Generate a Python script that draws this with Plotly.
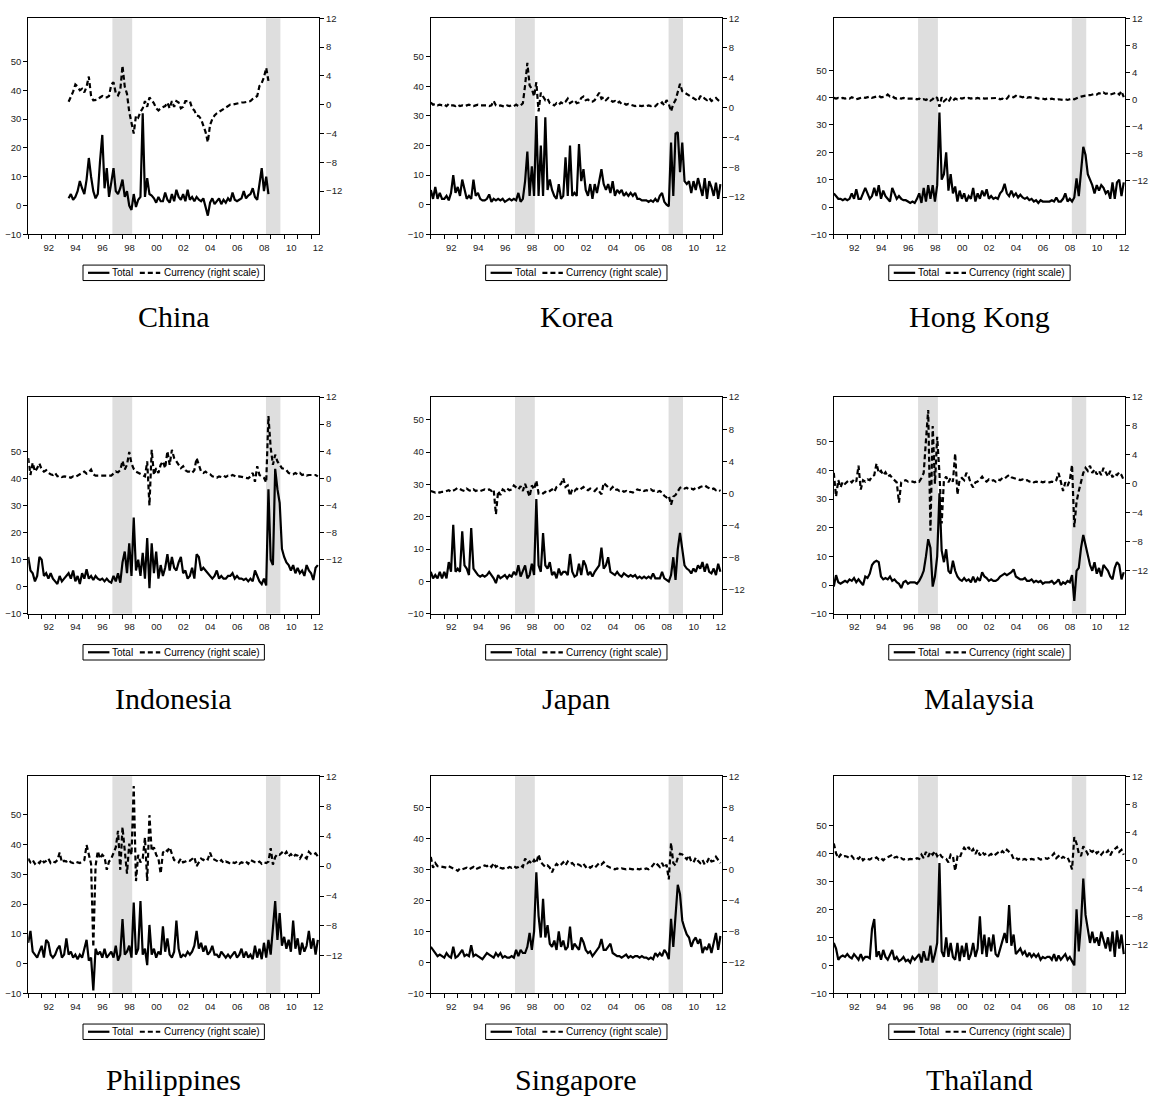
import plotly.graph_objects as go

# ---------------- data (bimonthly readings) ----------------
china_start = 1994.0
china_total = [
    2.5, 4, 2, 3, 5, 8.5,
    6, 4, 9, 16.5, 10, 5,
    2.5, 4, 15.5, 24.5, 6, 13,
    3, 8, 13, 5, 4, 6,
    9, 3, 5, 0, -1.5, 4,
    -0.5, 2, 3, 32, 3, 9.5,
    4, 3.5, 2.5, 1, 3, 1.5,
    1.5, 4.5, 2, 1, 4, 1.5,
    5.5, 3, 2, 4, 1.5, 5.5,
    2, 3, 1.5, 3, 2, 1.5,
    2.5, -0.5, -3.5, 1, 2.5, 0.5,
    1.5, 2.5, 0.5, 2, 1, 2.5,
    1.5, 4.5, 2, 1.5, 2, 2.5,
    5, 2.5, 3.5, 4, 6, 3,
    2, 7.5, 13, 5, 10, 4]
china_currency = [
    0.4, 1.0, 1.8, 2.8, 2.5, 2.0,
    2.2, 1.7, 2.5, 3.9, 1.2, 0.6,
    0.6, 0.7, 1.0, 1.2, 1.0, 1.0,
    1.2, 2.8, 3.1, 1.6, 1.3, 2.0,
    5.4, 2.5, 1.5, -1.0, -2.5, -4.0,
    -1.5, -1.8, -1.0, -0.5, 0.5, -0.3,
    1.0, 0.6, 0.2, -0.5, -0.8, -0.5,
    -0.3, -0.2, 0.3, -0.5, 0.5, -0.3,
    0.5, 0.3, -0.5, -0.3, 0.5, 0.5,
    0.5, -0.5, -0.8, -1.5, -1.6, -2.0,
    -3.0, -3.8, -5.2, -2.8, -2.0, -1.5,
    -1.2, -1.0, -0.8, -0.6, -0.4, -0.2,
    0.0, 0.0, 0.1, 0.2, 0.2, 0.3,
    0.3, 0.4, 0.4, 0.5, 0.8, 1.0,
    1.2, 2.6, 3.0, 3.8, 5.1, 3.3]

korea_start = 1991.0
korea_total = [
    5, 2, 6, 2, 4, 2,
    2, 3, 1.5, 4, 10, 4,
    6, 3, 8.5, 5, 2, 3,
    2, 8.5, 3, 4, 2, 1.5,
    1.5, 2, 3.5, 1, 2, 1.5,
    2, 1.5, 2, 1, 1.5, 2,
    1.5, 2, 1.5, 4, 1, 2,
    8, 18, 3, 13, 3, 30,
    3, 20, 3, 29.5, 5, 8.5,
    5, 3, 2, 7, 2, 3,
    16, 3, 20, 3, 4, 3,
    20.5, 8, 12, 5, 3, 7,
    2, 7, 4, 8, 12, 7,
    5, 7, 4, 8, 3, 5,
    4, 5, 3, 4, 3, 4,
    3, 4, 2, 2, 1.5, 1.5,
    1.5, 1, 1.5, 1, 2, 1,
    3, 4, 1, 0, -0.5, 21,
    3, 24, 24.5, 11, 21, 8,
    7, 8, 4, 8, 5, 9,
    6, 3, 9, 2, 8, 6,
    3, 7.5, 2, 7]
korea_currency = [
    0.7, 0.4, 0.5, 0.3, 0.4, 0.3,
    0.4, 0.2, 0.5, 0.3, 0.3, 0.2,
    0.4, 0.2, 0.3, 0.2, 0.3, 0.4,
    0.3, 0.2, 0.3, 0.4, 0.3, 0.3,
    0.4, 0.3, 0.2, 0.3, 0.9, 0.3,
    0.2, 0.3, 0.2, 0.1, 0.3, 0.2,
    0.3, 0.2, 0.4, 0.2, 0.3, 0.6,
    3.0, 6.0, 3.0, 2.5, 1.5, 3.4,
    -0.5, 2.0, 1.5, 1.0, 1.2, 0.6,
    0.5, 0.3, 0.6, 0.4, 0.7, 0.5,
    0.8, 1.2, 0.6, 0.8, 1.0, 0.6,
    0.7, 1.3, 1.5, 1.0, 1.1, 0.8,
    0.8, 1.0, 1.5, 2.0, 1.2, 1.4,
    1.0, 1.3, 1.0, 0.8, 0.9, 0.6,
    0.8, 0.5, 0.6, 0.4, 0.5, 0.4,
    0.3, 0.2, 0.3, 0.2, 0.2, 0.3,
    0.2, 0.3, 0.2, 0.3, 0.2, 0.5,
    0.4, 0.7, 0.3, 1.0, 0.5, -0.5,
    0.5, 1.0, 2.0, 3.2, 2.2, 2.0,
    1.8, 1.6, 1.4, 1.2, 1.0, 0.9,
    1.5, 1.6, 1.2, 1.0, 1.3, 0.9,
    1.1, 1.3, 1.0, 0.8]

hongkong_start = 1991.0
hongkong_total = [
    5, 4, 3, 3, 2.5, 3,
    2.5, 3, 5, 3, 6.5, 3,
    3, 5, 7, 5, 3, 4,
    7, 4, 8, 3, 6, 4,
    3, 2, 7, 5, 3, 4,
    3, 2.5, 2.5, 2, 1.5, 2,
    1.5, 3, 5, 1.5, 7, 2,
    8, 3, 8, 2, 8, 34.5,
    10, 12, 20, 6, 12, 5,
    7.5, 2, 6, 3, 5, 2,
    4, 3, 7, 2, 5, 3,
    6, 4, 6.5, 3, 4, 3,
    3.5, 3, 5, 6, 8.5, 5,
    4, 6, 4, 5, 3.5, 4.5,
    3.5, 3, 3.5, 2.5, 3, 2,
    2.5, 1.5, 2.5, 2, 2, 2,
    2, 2.5, 2, 3.5, 2, 2,
    3, 5, 2, 3, 2, 3.5,
    10.5, 4, 12, 22, 19, 12,
    10, 8, 5, 8, 6, 8,
    7, 5, 6, 3, 9, 3,
    9, 10, 4, 9]
hongkong_currency = [
    0.2, 0.1, 0.2, 0.1, 0.2, 0.1,
    0.2, 0.1, 0.3, 0.2, 0.0, 0.1,
    0.2, 0.3, 0.2, 0.3, 0.4, 0.2,
    0.3, 0.4, 0.5, 0.3, 0.4, 0.4,
    0.7, 0.4, 0.5, 0.2, 0.1, 0.2,
    0.1, 0.2, 0.1, 0.1, 0.2, 0.1,
    0.1, 0.0, 0.1, -0.1, 0.0, -0.1,
    0.1, -0.2, 0.0, 0.4, 0.2, -1.1,
    0.3, -0.3, 0.0, -0.4, 0.2, -0.2,
    0.1, 0.0, 0.2, 0.1, 0.2, 0.1,
    0.2, 0.1, 0.2, 0.1, 0.2, 0.1,
    0.2, 0.1, 0.1, 0.2, 0.1, 0.2,
    0.1, 0.2, 0.0, 0.1, -0.1, 0.1,
    0.5, 0.4, 0.3, 0.5, 0.3, 0.4,
    0.3, 0.4, 0.2, 0.3, 0.2, 0.2,
    0.2, 0.1, 0.2, 0.1, 0.0, 0.1,
    0.0, 0.1, 0.0, -0.1, 0.0, -0.1,
    -0.1, 0.0, -0.1, 0.0, 0.1, 0.0,
    0.2, 0.3, 0.4, 0.5, 0.5, 0.6,
    0.6, 0.7, 0.8, 0.7, 0.9, 0.8,
    1.0, 0.8, 0.9, 0.7, 0.8, 0.8,
    1.0, 0.7, 1.2, 0.3]

indonesia_start = 1991.0
indonesia_total = [
    11, 6, 5, 2, 4, 11,
    10, 4, 5, 3, 5, 3,
    2, 1, 4, 2, 3, 4,
    5, 3, 6, 2, 4, 1,
    5, 3, 6.5, 3, 4, 2.5,
    4, 3, 2.5, 3, 2, 3,
    2, 1.5, 4, 2, 5, 1.5,
    9, 13, 5, 16, 4, 25.5,
    6, 10, 4, 12.5, 3, 18,
    -0.5, 16, 5, 13, 3, 8,
    4, 7, 12, 6, 11, 7,
    6, 9, 11, 5, 6, 3,
    4, 7, 3, 12, 11, 6,
    7, 6, 5, 4, 3, 4,
    6, 3, 4, 3, 3, 4,
    4, 5, 3, 4, 3, 3,
    2.5, 3, 2, 3, 2, 6,
    4, 2, 1, 3, 0.5, 36,
    10, 8, 43.5, 36, 31, 14,
    11, 9, 8, 6, 8, 5,
    7, 5, 6, 4, 8, 6,
    5, 2.5, 7, 8]
indonesia_currency = [
    3.0, 0.5, 2.3, 1.0, 1.5, 2.2,
    1.3, 1.0, 1.2, 0.8, 0.6, 0.5,
    0.8, 0.3, 0.4, 0.2, 0.3, 0.3,
    0.2, 0.1, 0.3, 0.2, 0.4, 0.5,
    0.7, 1.0, 0.7, 0.9, 1.3, 0.6,
    0.4, 0.4, 0.3, 0.3, 0.4, 0.3,
    0.3, 0.4, 0.7, 1.0, 0.9, 1.2,
    2.6, 1.3, 2.0, 3.9, 2.2, 1.4,
    1.0, 0.8, 0.6, 0.4, 0.3, 2.5,
    -4.0, 4.2, 0.5, 1.5, 0.8, 2.0,
    2.5, 1.5, 4.0, 2.0, 4.2, 3.0,
    2.5, 2.0, 1.5, 1.8, 1.2, 1.0,
    1.0, 0.8, 1.2, 3.0, 1.8, 1.0,
    0.8, 1.0, 0.7, 0.6, 0.3, 0.2,
    0.1, 0.3, 0.2, 0.4, 0.2, 0.4,
    0.3, 0.5, 0.3, 0.2, 0.3, 0.2,
    0.2, 0.1, 0.0, 0.3, 0.8, -0.5,
    1.8, 0.5, 0.3, 0.1, -0.6, 9.2,
    4.5, 2.0, 3.5, 2.5, 2.0, 1.5,
    1.4, 1.2, 0.8, 0.7, 0.6, 0.8,
    0.6, 0.8, 0.5, 0.6, 0.4, 0.5,
    0.5, 0.4, 0.5, 0.3]

japan_start = 1991.0
japan_total = [
    3, 1, 2, 1, 3, 1,
    3, 1, 6, 3, 17.5, 3,
    4, 3, 15.5, 5, 4, 2,
    16.5, 4, 3, 2, 1.5, 2,
    1.5, 2, 3, 2, 1, -0.5,
    2, 1, 1.5, 2, 1, 2,
    1.5, 3, 2, 5, 1.5, 3,
    5, 1, 2, 5.5, 2, 25.5,
    5, 3, 15, 5, 4, 6,
    2, 3, 1, 4, 2, 3,
    3, 2, 8.5, 3, 1.5, 2,
    5.5, 2, 6.5, 5, 2, 3,
    1.5, 3, 4, 5, 10.5, 4,
    5, 7.5, 3, 2.5, 2, 3,
    2, 1.5, 2.5, 2, 1.5, 2,
    1.5, 2, 1, 1.5, 1, 1.5,
    1, 1.5, 1, 2.5, 1, 1,
    1, 3, 1, 0.5, 0, 2,
    7.5, 0.5, 10, 15, 9.5, 5,
    4, 3.5, 2.5, 4, 3, 5,
    4, 6, 3, 5.5, 3, 2.5,
    4, 2, 5.5, 3]
japan_currency = [
    0.3, 0.2, 0.1, 0.2, 0.1, 0.2,
    0.2, 0.3, 0.4, 0.2, 0.3, 0.5,
    0.7, 0.5, 0.4, 0.3, 0.6, 0.4,
    0.3, 0.5, 0.3, 0.4, 0.3, 0.4,
    0.5, 0.4, 0.5, 0.3, 0.5, -2.6,
    0.3, -0.2, 0.5, 0.3, 0.6, 0.4,
    0.5, 1.0, 0.8, 0.5, 0.9, 0.3,
    1.2, 0.5, -0.4, 1.0, 0.5, 1.6,
    0.0, 0.1, 0.0, 0.2, 0.1, 0.3,
    0.5, 0.2, 0.8, 1.0, 1.2, 1.9,
    0.8, 1.0, -0.3, 0.5, 0.3, 0.6,
    0.4, 0.6, 0.8, 0.5, 0.4, 0.6,
    0.5, 0.3, 0.6, 0.2, -0.1, 1.3,
    1.0, 0.7, 0.5, 0.8, 0.4, 0.5,
    0.3, 0.4, 0.2, 0.3, 0.1, 0.2,
    0.1, 0.3, 0.5, 0.4, 0.5, 0.3,
    0.4, 0.3, 0.5, 0.3, 0.4, 0.2,
    0.3, 0.1, -0.3, -0.5, -0.3, -1.4,
    -0.4, -0.2, 0.2, 0.7, 0.8, 0.6,
    0.7, 0.5, 0.6, 0.5, 0.7, 0.6,
    0.8, 0.9, 1.0, 0.8, 0.6, 0.5,
    0.6, 0.4, 0.5, 0.3]

malaysia_start = 1991.0
malaysia_total = [
    -0.5, 3.5, 1, 0.5, 1, 1.5,
    1, 2, 1.5, 2.5, 1, 2,
    1, 0, 3, 2.5, 4, 7,
    8, 8.5, 8, 3, 2, 2.5,
    2, 3, 1.5, 2, 1, 0.5,
    -1, 1, 1.5, 0.5, 1, 1,
    1, 0.5, 1.5, 3, 5, 10,
    16, 13, -0.5, 3, 10, 32,
    12, 8, 12.5, 5, 4, 8.5,
    5, 3, 2, 1.5, 2.5, 1.5,
    2, 1, 3, 1, 2.5, 1.5,
    4.5, 3, 2.5, 1.5, 2, 1.5,
    1.5, 2, 3, 3.5, 4, 3.5,
    4, 4.5, 5.5, 3, 2.5, 2,
    2, 2.5, 1.5, 1.5, 2, 1,
    1.5, 1, 1.5, 0.5, 1, 1,
    1, 1.5, 0.5, 1, 2, 0,
    1, 0.5, 1.5, 1, 3.5, -5.5,
    5, 6, 13, 17.5, 14, 10,
    7, 5, 8, 4, 6, 3,
    7, 6, 5, 3, 2, 6,
    8, 7, 2, 4.5]
malaysia_currency = [
    1.5, -1.75, 0.5, -0.5, 0.3, 0.0,
    0.3, 0.5, 0.2, 0.6, 0.3, 2.5,
    -0.8, 0.5, 0.3, 0.6, 0.5, 1.0,
    1.2, 2.8, 1.5, 1.8, 1.2, 1.6,
    1.0, 1.2, 0.8, 0.5, 0.2, -2.6,
    0.2, 0.4, 0.5, 0.3, 0.4, 0.3,
    0.2, 0.4, 0.3, 0.8, 1.5, 6.0,
    10.2, -6.5, 8.0, 0.0, 6.5, 1.5,
    -5.5, 0.5, 1.0, 0.2, 0.8, 0.3,
    4.2, -1.5, 0.6, 0.8, 0.5, 1.5,
    1.0, 0.0, -0.5, 0.2, 0.3, 0.6,
    1.0, 0.5, 0.3, 0.6, 0.4, 0.5,
    0.3, 0.6, 0.5, 0.8, 0.7, 1.0,
    1.2, 0.9, 0.8, 0.7, 0.6, 0.5,
    0.6, 0.4, 0.5, 0.3, 0.4, 0.2,
    0.3, 0.2, 0.3, 0.2, 0.3, 0.2,
    0.2, 0.3, 0.2, 0.5, 1.5, 0.3,
    -1.0, 0.2, -0.3, 0.5, 2.6, -6.0,
    -2.5, -1.0, 0.5, 1.5, 2.2, 1.8,
    2.5, 1.5, 2.0, 1.3, 1.8, 1.2,
    2.2, 1.5, 1.0, 1.8, 0.9, 1.4,
    1.2, 1.6, 1.2, 0.5]

philippines_start = 1991.0
philippines_total = [
    7, 11, 4, 3, 2, 4,
    6, 2, 8, 7, 3, 2,
    3, 5, 6, 2, 3, 8.5,
    3, 4, 2, 3, 1.5, 3,
    2, 5, 8, 1, 2, -9,
    5, 3, 4, 2, 5, 2,
    3, 4, 2, 6, 1, 3,
    15, 3, 4, 6, 2, 20.5,
    3, 5, 21, 3, 5, -0.5,
    13, 3, 5, 2, 4, 3,
    12.5, 4, 8.5, 3, 2, 4,
    14.5, 5, 2, 3, 2.5, 4,
    3, 4, 6, 11, 5, 7,
    4, 6, 3, 4, 6, 3,
    3, 2, 4, 3, 2, 3,
    2, 3, 4, 2, 3, 5,
    2, 4, 2, 3, 1.5, 6,
    2, 5, 1.5, 7, 2, 8,
    3, 12, 21, 8, 17, 6,
    9, 5, 8, 4, 14.5, 5,
    8.5, 3, 7, 4, 6, 11,
    5, 8.5, 3, 8]
philippines_currency = [
    1.0, 0.5, 0.8, 0.3, 0.6, 0.4,
    0.9, 0.5, 0.7, 1.0, 0.4, 0.6,
    0.5, 0.8, 1.8, 0.5, 0.7, 0.6,
    0.8, 0.5, 0.4, 0.6, 0.5, 0.4,
    0.6, 0.8, 2.8, 1.5, 0.3, -10.8,
    0.0, 2.0, 1.0, 1.5, 1.2, -0.5,
    0.6, 1.0, 1.8, 2.5, 4.7, -0.5,
    5.2, 2.0, -1.0, 3.0, 1.5, 10.7,
    -2.0, 1.5, 0.5, 1.0, 3.8, -2.0,
    6.8, 2.0, 2.5, 1.5, 1.0, -1.0,
    1.8, 2.2, 2.0, 2.5, 1.5, 0.8,
    0.7, 0.5, 1.0, 0.5, 0.6, 0.8,
    0.7, 1.0, 1.2, 0.0, 0.5, 1.0,
    0.8, 1.1, 0.9, 1.8, 1.0, 0.9,
    0.7, 0.5, 0.8, 0.4, 0.6, 0.5,
    0.3, 0.5, 0.4, 0.6, 0.3, 0.5,
    0.4, 0.6, 0.3, 0.8, 0.6, 0.5,
    0.4, 0.6, 0.3, 0.5, 0.4, 0.6,
    2.4, 0.2, 1.2, 1.6, 1.5, 1.8,
    1.5, 1.9, 1.3, 1.6, 1.2, 1.5,
    1.4, 1.0, 1.5, 1.2, 1.0, 1.9,
    1.6, 1.5, 1.7, 1.3]

singapore_start = 1991.0
singapore_total = [
    5, 4, 3, 2, 2.5, 2,
    1.5, 3, 2, 1.5, 5, 1.5,
    2, 3, 4, 2, 2.5, 2,
    5.5, 2, 2.5, 2, 1.5, 1,
    2, 3, 2.5, 2, 1.5, 3,
    2, 3, 1.5, 2, 1.5, 1.5,
    2, 1.5, 4, 2, 4, 3,
    3, 5, 9.5, 4, 10, 29,
    15, 8, 20.5, 8, 12, 6,
    5, 7, 4, 10, 5, 7,
    4, 5, 11.5, 4, 6, 5,
    4, 8, 6.5, 4, 3, 3.5,
    2, 3, 4, 5, 7.5, 4,
    4, 5, 6, 3, 2.5, 2,
    2, 1.5, 2, 2.5, 1.5, 2,
    1.5, 2, 2, 1.5, 2, 1.5,
    1.5, 1, 1.5, 1, 3, 2,
    3, 2, 4, 3, 1, 14,
    5, 15, 25, 22, 13.5, 11,
    9, 8, 5, 7, 8, 6,
    7.5, 3, 5, 4, 6, 3,
    6, 9.5, 4, 8.5]
singapore_currency = [
    1.6, 0.2, 0.8, 0.4, 0.4, 0.3,
    0.3, 0.2, 0.4, 0.2, 0.1, 0.0,
    -0.2, 0.1, 0.0, 0.1, 0.2, 0.0,
    0.1, 0.3, 0.0, 0.1, 0.2, 0.3,
    0.5, 0.4, 0.6, 0.3, 0.8, 0.3,
    0.5, 0.2, 0.1, 0.2, 0.1, 0.3,
    0.2, 0.4, 0.2, 0.3, 0.5, 0.3,
    1.4, 0.8, 1.0, 0.7, 1.2, 0.8,
    1.9, 0.9, 0.6, 0.3, 0.5, 0.2,
    -0.4, 0.3, 0.7, 0.4, 0.6, 0.9,
    0.5, 1.0, 0.7, 0.8, 0.5, 0.7,
    0.6, 0.4, 0.7, 0.3, 0.5, 0.2,
    0.4, 0.2, 0.5, 0.8, 0.6, 0.9,
    0.5, 0.3, 0.2, 0.1, 0.0, 0.1,
    0.0, 0.1, 0.0, 0.0, 0.1, 0.0,
    0.0, 0.1, 0.0, 0.0, 0.1, 0.0,
    0.1, 0.0, 0.2, 0.5, 0.9, 0.6,
    0.3, 0.8, 0.2, 0.6, -1.3, 3.4,
    0.8, 0.5, 1.5, 2.0, 1.9, 1.6,
    1.3, 1.8, 1.0, 0.9, 1.5, 1.1,
    0.8, 1.2, 0.6, 0.9, 1.5, 1.0,
    1.1, 1.6, 1.2, 0.8]

thailand_start = 1991.0
thailand_total = [
    8, 6, 2, 3, 3.5, 3,
    4, 3, 2.5, 4, 3, 2,
    4, 2, 3, 3, 2.5, 13,
    16.5, 3, 5, 2, 5.5, 3,
    2, 4, 5.5, 2, 3, 1.5,
    2, 3, 1.5, 2, 1, 3,
    2, 3, 4, 1, 5, 2,
    2, 7, 1, 4, 8, 36.5,
    5, 3, 10, 3, 8, 3,
    2, 8, 1.5, 7, 3, 8,
    2, 4, 8, 3, 6, 17.5,
    4, 11, 3, 10, 5, 11,
    4, 3, 6, 9, 11.5, 8,
    21.5, 7, 11, 4, 5, 6,
    4, 5, 3, 4.5, 3, 4,
    3, 4, 2, 3, 2.5, 3,
    3, 2, 4, 1.5, 3.5, 2,
    3, 4, 2, 3, 1.5, 0,
    20, 5, 15, 31, 18, 13,
    8, 12, 8, 10, 7, 12,
    9, 6, 10, 5, 12, 3,
    12.5, 6, 11, 4]
thailand_currency = [
    2.4, 1.0, 0.3, 0.8, 0.5, 0.6,
    0.5, 0.3, 0.6, 0.2, 0.4, 0.2,
    0.6, 0.0, 0.3, 0.2, 0.1, 0.3,
    0.2, 0.4, 0.1, 0.3, 0.0, 0.3,
    0.4, 0.6, 0.8, 0.4, 0.5, 0.2,
    0.3, 0.1, 0.2, 0.1, 0.2, 0.2,
    0.1, 0.3, 0.2, 0.8, 0.3, 1.2,
    0.5, 1.2, 0.8, 1.3, 0.6, 1.0,
    0.5, 0.3, 0.2, -0.3, 0.8, 0.6,
    -1.5, 0.5, 0.3, 1.2, 1.8, 1.4,
    1.9, 1.2, 1.6, 0.9, 1.5, 0.7,
    1.2, 0.8, 1.0, 0.7, 0.9, 0.6,
    0.8, 1.1, 0.9, 1.3, 1.0, 1.5,
    1.2, 0.9, 0.2, 0.4, 0.1, 0.3,
    0.1, 0.2, 0.0, 0.1, 0.2, 0.1,
    0.2, 0.3, 0.1, 0.2, 0.3, 0.2,
    0.4, 0.6, 1.0, 0.3, 0.6, 0.2,
    0.5, 0.3, 0.4, -0.3, -1.3, 3.3,
    2.4, 1.0, 0.6, 2.0, 1.5, 0.9,
    1.4, 1.2, 1.5, 1.0, 1.3, 0.8,
    1.2, 1.0, 1.4, 0.7, 1.3, 1.6,
    1.9, 1.2, 1.5, 0.8]

crisis_periods = [(1997.25, 1998.72), (2008.65, 2009.72)]
year_ticks = list(range(1992, 2013, 2))
year_labels = ["92", "94", "96", "98", "00", "02", "04", "06", "08", "10", "12"]
odd_years = list(range(1991, 2012, 2))
left_ticks = [-10, 0, 10, 20, 30, 40, 50]
right_ticks = [-12, -8, -4, 0, 4, 8, 12]
legend_names = ["Total", "Currency (right scale)"]

panels = [
    ("China", china_start, china_total, china_currency, (-10, 65), (-18, 12)),
    ("Korea", korea_start, korea_total, korea_currency, (-10, 63), (-17, 12)),
    ("Hong Kong", hongkong_start, hongkong_total, hongkong_currency, (-10, 69), (-20, 12)),
    ("Indonesia", indonesia_start, indonesia_total, indonesia_currency, (-10, 70), (-20, 12)),
    ("Japan", japan_start, japan_total, japan_currency, (-10, 57), (-15, 12)),
    ("Malaysia", malaysia_start, malaysia_total, malaysia_currency, (-10, 65.5), (-18, 12)),
    ("Philippines", philippines_start, philippines_total, philippines_currency, (-10, 63), (-17, 12)),
    ("Singapore", singapore_start, singapore_total, singapore_currency, (-10, 60), (-16, 12)),
    ("Thaïland", thailand_start, thailand_total, thailand_currency, (-10, 67.5), (-19, 12)),
]

# ---------------- layout geometry (pixels) ----------------
W, H = 1153, 1102
col_px = [(28.3, 320.3), (432.3, 724.3), (836.7, 1129.0)]
row_px = [(12.3, 230.7), (395.0, 614.0), (778.0, 997.3)]
legend_top_px = [261.7, 645.0, 1028.3]
title_mid_px = [314.0, 699.0, 1084.0]

SANS = "Liberation Sans, Arial, sans-serif"
TICKFONT = dict(family=SANS, size=9.5, color="#222")
DASH = "5px,3px"


def px_x(v):
    return v / W


def px_y(v):
    return 1 - v / H


fig = go.Figure()
layout = dict(
    width=W, height=H, margin=dict(l=0, r=0, t=0, b=0),
    paper_bgcolor="white", plot_bgcolor="white",
    showlegend=False, shapes=[], annotations=[],
)

for k, (name, t0, tot, cur, lrange, rrange) in enumerate(panels, start=1):
    r, c = divmod(k - 1, 3)
    xl, xr = col_px[c]
    yt, yb = row_px[r]
    xs_id = "x" if k == 1 else f"x{k}"
    yl_id = "y" if k == 1 else f"y{k}"
    yr_id = f"y{k + 9}"

    x_tot = [t0 + i / 6.0 for i in range(len(tot))]
    x_cur = [t0 + i / 6.0 for i in range(len(cur))]

    fig.add_trace(go.Scatter(
        x=x_tot, y=tot, mode="lines", name=legend_names[0],
        line=dict(color="black", width=2.2),
        xaxis=xs_id, yaxis=yl_id, showlegend=False))
    fig.add_trace(go.Scatter(
        x=x_cur, y=cur, mode="lines", name=legend_names[1],
        line=dict(color="black", width=2.2, dash=DASH),
        xaxis=xs_id, yaxis=yr_id, showlegend=False))

    xkey = "xaxis" if k == 1 else f"xaxis{k}"
    ylkey = "yaxis" if k == 1 else f"yaxis{k}"
    yrkey = f"yaxis{k + 9}"

    layout[xkey] = dict(
        domain=[px_x(xl), px_x(xr)], anchor=yl_id, range=[1991.0, 2012.6],
        tickmode="array", tickvals=year_ticks, ticktext=year_labels,
        ticks="outside", ticklen=4, tickwidth=1, tickcolor="black",
        ticklabelshift=7, tickfont=TICKFONT,
        minor=dict(tickmode="array", tickvals=odd_years, ticks="outside",
                   ticklen=4, tickwidth=1, tickcolor="black", showgrid=False),
        showline=True, linecolor="black", linewidth=1, mirror=True,
        showgrid=False, zeroline=False, fixedrange=True)
    layout[ylkey] = dict(
        domain=[px_y(yb), px_y(yt)], anchor=xs_id, range=list(lrange),
        tickmode="array", tickvals=left_ticks,
        ticks="outside", ticklen=4, tickcolor="black", tickfont=TICKFONT,
        showline=True, linecolor="black", linewidth=1,
        showgrid=False, zeroline=False, fixedrange=True)
    layout[yrkey] = dict(
        overlaying=yl_id, side="right", anchor=xs_id, range=list(rrange),
        tickmode="array", tickvals=right_ticks,
        ticks="outside", ticklen=4, tickcolor="black", tickfont=TICKFONT,
        showline=True, linecolor="black", linewidth=1,
        showgrid=False, zeroline=False, fixedrange=True)

    for (a, b) in crisis_periods:
        layout["shapes"].append(dict(
            type="rect", xref=xs_id, yref=f"{yl_id} domain",
            x0=a, x1=b, y0=0, y1=1, fillcolor="#dedede",
            line=dict(width=0), layer="below"))

    # ---- legend box (drawn) ----
    cxp = (xl + xr) / 2
    lt = legend_top_px[r]
    lb = lt + 15.6
    lm = (lt + lb) / 2
    layout["shapes"].append(dict(
        type="rect", xref="paper", yref="paper",
        x0=px_x(cxp - 91), x1=px_x(cxp + 91), y0=px_y(lb), y1=px_y(lt),
        line=dict(color="black", width=1), fillcolor="white"))
    layout["shapes"].append(dict(
        type="line", xref="paper", yref="paper",
        x0=px_x(cxp - 86), x1=px_x(cxp - 64.5), y0=px_y(lm), y1=px_y(lm),
        line=dict(color="black", width=2.2)))
    layout["shapes"].append(dict(
        type="line", xref="paper", yref="paper",
        x0=px_x(cxp - 34), x1=px_x(cxp - 13.5), y0=px_y(lm), y1=px_y(lm),
        line=dict(color="black", width=2.2, dash=DASH)))
    layout["annotations"].append(dict(
        text=legend_names[0], xref="paper", yref="paper",
        x=px_x(cxp - 62.5), y=px_y(lm), xanchor="left", yanchor="middle",
        showarrow=False, borderpad=0,
        font=dict(family=SANS, size=10, color="black")))
    layout["annotations"].append(dict(
        text=legend_names[1], xref="paper", yref="paper",
        x=px_x(cxp - 11), y=px_y(lm), xanchor="left", yanchor="middle",
        showarrow=False, borderpad=0,
        font=dict(family=SANS, size=10, color="black")))

    layout["annotations"].append(dict(
        text=name, xref="paper", yref="paper", x=px_x(cxp), y=px_y(title_mid_px[r]),
        xanchor="center", yanchor="middle", showarrow=False,
        font=dict(family="Liberation Serif, Times New Roman, serif", size=30, color="black")))

fig.update_layout(**layout)
fig.write_html("out.html", config={"displayModeBar": False},
               post_script="document.body.style.margin='0px';document.body.style.padding='0px';")
